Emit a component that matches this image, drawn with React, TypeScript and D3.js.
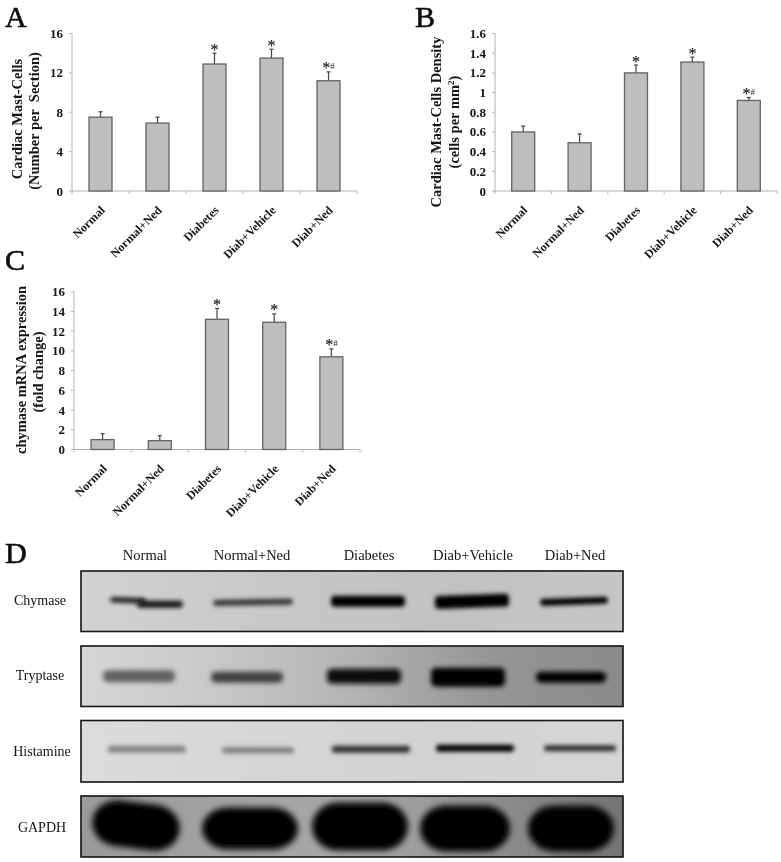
import React from "react";
import * as d3 from "d3";

// ---------- data ----------
const groups = ["Normal", "Normal+Ned", "Diabetes", "Diab+Vehicle", "Diab+Ned"];
const marks = ["", "", "*", "*", "*#"];

const mastCells = [7.5, 6.9, 12.9, 13.5, 11.2];
const mastCellsTop = [8.05, 7.5, 14.0, 14.4, 12.1];
const mastTicks = [0, 4, 8, 12, 16];

const density = [0.6, 0.49, 1.2, 1.31, 0.92];
const densityTop = [0.66, 0.58, 1.28, 1.36, 0.95];
const densityTicks = [0, 0.2, 0.4, 0.6, 0.8, 1, 1.2, 1.4, 1.6];

const chymaseMrna = [1.0, 0.9, 13.2, 12.9, 9.4];
const chymaseMrnaTop = [1.6, 1.4, 14.3, 13.75, 10.2];
const chymaseTicks = [0, 2, 4, 6, 8, 10, 12, 14, 16];

// blot bands: centre in the picture's lane units, length, thickness, darkness, vertical offset, tilt
const chymaseLane = [128, 160, 253, 368, 472, 574];
const chymaseLen = [36, 46, 80, 74, 74, 68];
const chymaseThick = [5, 7, 6, 11, 13, 7];
const chymaseDark = [0.95, 0.9, 0.75, 1, 1, 1];
const chymaseOffset = [-1, 3, 1, 0, 0, 0];
const chymaseTilt = [2, 0, -1, 0, -2, -2];

const tryptaseLane = [139, 247, 364, 468, 571];
const tryptaseLen = [72, 72, 74, 74, 70];
const tryptaseThick = [12, 11, 15, 19, 11];
const tryptaseDark = [0.5, 0.68, 0.95, 1, 1];
const tryptaseOffset = [0, 1, 0, 1, 1];
const tryptaseTilt = [0, 0, 0, 0, 0];

const histamineLane = [147, 258, 371, 475, 580];
const histamineLen = [78, 72, 78, 78, 72];
const histamineThick = [7, 6, 7, 7, 6];
const histamineDark = [0.3, 0.34, 0.75, 1, 0.78];
const histamineOffset = [-2, -1, -2, -3, -3];
const histamineTilt = [0, 0, 0, 0, 0];

const gapdhLane = [136, 250, 360, 465, 571];
const gapdhLen = [88, 96, 96, 90, 86];
const gapdhThick = [46, 42, 48, 46, 46];
const gapdhDark = [1, 1, 1, 1, 1];
const gapdhOffset = [-1, 2, 0, 2, 2];
const gapdhTilt = [7, 0, 0, 0, 0];

const blotRowNames = ["Chymase", "Tryptase", "Histamine", "GAPDH"];

// ---------- layout ----------
const serif = "'Liberation Serif', 'Times New Roman', serif";
const ink = "#141414";

type PanelProps = {
  values: number[];
  tops: number[];
  ticks: number[];
  x0: number;
  x1: number;
  yTop: number;
  yBottom: number;
  titles: React.ReactNode[];
  titleX: number[];
  titleY: number[];
};

function BarPanel({ values, tops, ticks, x0, x1, yTop, yBottom, titles, titleX, titleY }: PanelProps) {
  const x = d3.scaleBand<string>().domain(groups).range([x0, x1]);
  const y = d3.scaleLinear().domain([0, d3.max(ticks) as number]).range([yBottom, yTop]);
  const barW = 23;
  const axis = "#b4b4b4";
  return (
    <g>
      <line x1={x0} x2={x0} y1={yTop} y2={yBottom} stroke={axis} strokeWidth={1} />
      <line x1={x0} x2={x1} y1={yBottom} y2={yBottom} stroke={axis} strokeWidth={1.2} />
      {ticks.map((t) => (
        <g key={t}>
          <line x1={x0 - 3} x2={x0} y1={y(t)} y2={y(t)} stroke={axis} />
          <text x={x0 - 9} y={y(t) + 4.5} textAnchor="end" fontFamily={serif} fontWeight="bold" fontSize={13} fill={ink}>
            {t}
          </text>
        </g>
      ))}
      {d3.range(groups.length + 1).map((i) => {
        const px = x0 + i * x.step();
        return <line key={i} x1={px} x2={px} y1={yBottom} y2={yBottom + 3} stroke={axis} />;
      })}
      {groups.map((g, i) => {
        const cx = (x(g) as number) + x.bandwidth() / 2;
        return (
          <g key={g}>
            <line x1={cx} x2={cx} y1={y(values[i])} y2={y(tops[i])} stroke="#444" strokeWidth={1.2} />
            <line x1={cx - 2} x2={cx + 2} y1={y(tops[i])} y2={y(tops[i])} stroke="#444" strokeWidth={1.2} />
            <rect
              x={cx - barW / 2}
              y={y(values[i])}
              width={barW}
              height={yBottom - y(values[i])}
              fill="#bebebe"
              stroke="#636363"
              strokeWidth={1.3}
            />
            {marks[i] && (
              <text x={cx} y={y(tops[i]) + 1.5} textAnchor="middle" fontFamily={serif} fontSize={16} fill="#222" stroke="#222" strokeWidth={0.2}>
                <tspan>*</tspan>
                {marks[i].length > 1 && <tspan fontSize={9} strokeWidth={0} dy={-4}>#</tspan>}
              </text>
            )}
            <text
              transform={`translate(${cx + 5},${yBottom + 20}) rotate(-45)`}
              textAnchor="end"
              fontFamily={serif}
              fontWeight="bold"
              fontSize={12}
              fill={ink}
            >
              {g}
            </text>
          </g>
        );
      })}
      {titles.map((t, i) => (
        <text
          key={i}
          transform={`translate(${titleX[i]},${titleY[i]}) rotate(-90)`}
          textAnchor="middle"
          fontFamily={serif}
          fontWeight="bold"
          fontSize={14.5}
          fill={ink}
          style={{ whiteSpace: "pre" }}
        >
          {t}
        </text>
      ))}
    </g>
  );
}

type BlotProps = {
  id: string;
  y0: number;
  y1: number;
  gradient: string[];
  lane: number[];
  len: number[];
  thick: number[];
  dark: number[];
  offset: number[];
  tilt: number[];
  blur: number;
  round: number;
  left: number;
  right: number;
};

function Blot({ id, y0, y1, gradient, lane, len, thick, dark, offset, tilt, blur, round, left, right }: BlotProps) {
  const cy = (y0 + y1) / 2;
  const shade = d3.scaleLinear<string>().domain([0, 1]).range(["#bdbdbd", "#030303"]);
  return (
    <g>
      <defs>
        <linearGradient id={id}>
          {gradient.map((c, i) => (
            <stop key={i} offset={i / (gradient.length - 1)} stopColor={c} />
          ))}
        </linearGradient>
        <filter id={id + "b"} x="-30%" y="-200%" width="160%" height="500%">
          <feGaussianBlur stdDeviation={blur} />
        </filter>
        <clipPath id={id + "c"}>
          <rect x={left} y={y0} width={right - left} height={y1 - y0} />
        </clipPath>
      </defs>
      <rect x={left} y={y0} width={right - left} height={y1 - y0} fill={`url(#${id})`} />
      <g clipPath={`url(#${id}c)`}>
        {lane.map((cx, i) => (
          <rect
            key={i}
            x={cx - len[i] / 2}
            y={cy + offset[i] - thick[i] / 2}
            width={len[i]}
            height={thick[i]}
            rx={Math.min(round, len[i] / 2)}
            ry={Math.min(round, thick[i] / 2)}
            fill={shade(dark[i])}
            filter={`url(#${id}b)`}
            transform={`rotate(${tilt[i]} ${cx} ${cy + offset[i]})`}
          />
        ))}
      </g>
      <rect x={left} y={y0} width={right - left} height={y1 - y0} fill="none" stroke="#151515" strokeWidth={1.6} />
    </g>
  );
}

export default function App() {
  const left = 81;
  const right = 623;
  const letter = { fontFamily: serif, fontSize: 30, fill: "#0a0a0a", stroke: "#0a0a0a", strokeWidth: 0.6 };
  const headerX = [145, 252, 369, 473, 575];
  const rowLabelX = [40, 40, 42, 42];
  const rowLabelY = [605, 680, 756, 832];
  return (
    <svg
      width={781}
      height={862}
      viewBox="0 0 781 862"
      style={{ position: "absolute", left: 0, top: 0, background: "#fff" }}
    >
      <defs>
        <filter id="soft" filterUnits="userSpaceOnUse" x={0} y={0} width={781} height={862}>
          <feGaussianBlur stdDeviation={0.35} />
        </filter>
      </defs>
      <g filter="url(#soft)">
        <text x={5} y={26.8} {...letter}>A</text>
        <text x={415} y={26.8} {...letter}>B</text>
        <text x={5} y={270} {...letter}>C</text>
        <text x={5} y={563} {...letter}>D</text>

        <BarPanel
          values={mastCells}
          tops={mastCellsTop}
          ticks={mastTicks}
          x0={72}
          x1={357}
          yTop={33.5}
          yBottom={191}
          titles={["Cardiac Mast-Cells", "(Number per  Section)"]}
          titleX={[22, 39]}
          titleY={[119, 121]}
        />
        <BarPanel
          values={density}
          tops={densityTop}
          ticks={densityTicks}
          x0={495}
          x1={777}
          yTop={33.5}
          yBottom={191}
          titles={[
            "Cardiac Mast-Cells Density",
            <>
              (cells per mm<tspan fontSize={9} dy={-5}>2</tspan>
              <tspan dy={5}>)</tspan>
            </>,
          ]}
          titleX={[441, 459]}
          titleY={[122, 122]}
        />
        <BarPanel
          values={chymaseMrna}
          tops={chymaseMrnaTop}
          ticks={chymaseTicks}
          x0={74}
          x1={360}
          yTop={291.7}
          yBottom={449.5}
          titles={["chymase mRNA expression", "(fold change)"]}
          titleX={[26, 43]}
          titleY={[370, 372]}
        />

        {groups.map((g, i) => (
          <text key={g} x={headerX[i]} y={560} textAnchor="middle" fontFamily={serif} fontSize={14.5} fill={ink}>
            {g}
          </text>
        ))}

        <Blot id="chy" y0={571} y1={631.5} gradient={["#d2d2d2", "#c8c8c8", "#c2c2c2", "#c6c6c6"]}
          lane={chymaseLane} len={chymaseLen} thick={chymaseThick} dark={chymaseDark} offset={chymaseOffset} tilt={chymaseTilt}
          blur={2} round={4} left={left} right={right} />
        <Blot id="try" y0={646} y1={706.5} gradient={["#d6d6d6", "#c8c8c8", "#b4b4b4", "#969696", "#8a8a8a"]}
          lane={tryptaseLane} len={tryptaseLen} thick={tryptaseThick} dark={tryptaseDark} offset={tryptaseOffset} tilt={tryptaseTilt}
          blur={2.6} round={5} left={left} right={right} />
        <Blot id="his" y0={720.5} y1={782} gradient={["#dcdcdc", "#d6d6d6", "#d2d2d2", "#d6d6d6"]}
          lane={histamineLane} len={histamineLen} thick={histamineThick} dark={histamineDark} offset={histamineOffset} tilt={histamineTilt}
          blur={2} round={3} left={left} right={right} />
        <Blot id="gap" y0={796} y1={857} gradient={["#9a9a9a", "#a2a2a2", "#a8a8a8", "#909090", "#747474"]}
          lane={gapdhLane} len={gapdhLen} thick={gapdhThick} dark={gapdhDark} offset={gapdhOffset} tilt={gapdhTilt}
          blur={3.2} round={26} left={left} right={right} />

        {blotRowNames.map((n, i) => (
          <text key={n} x={rowLabelX[i]} y={rowLabelY[i]} textAnchor="middle" fontFamily={serif} fontSize={14} fill={ink}>
            {n}
          </text>
        ))}
      </g>
    </svg>
  );
}
